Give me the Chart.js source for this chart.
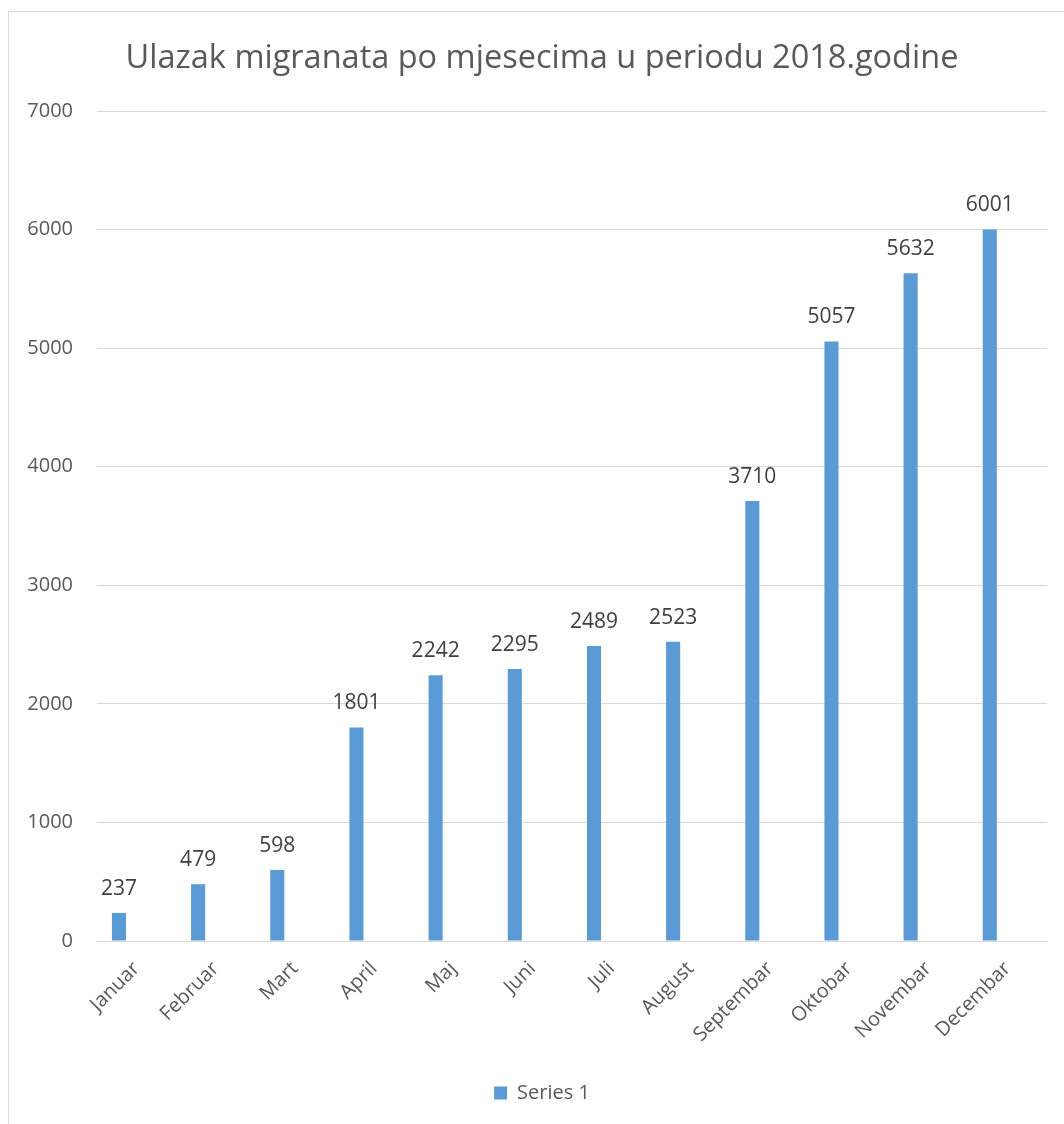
<!DOCTYPE html>
<html>
<head>
<meta charset="utf-8">
<script src="https://cdn.jsdelivr.net/npm/chart.js@4"></script>
<style>
  html, body { margin: 0; padding: 0; background: #fff; overflow: hidden; }
  #okvir { position: absolute; left: 8px; top: 11px; width: 1200px; height: 1200px; border: 1px solid #d9d9d9; }
  #wrap { position: absolute; left: 0; top: 0; width: 1064px; height: 1124px; }
</style>
</head>
<body>
<div id="okvir"></div>
<div id="wrap"><canvas id="grafik"></canvas></div>
<script>
// podaci
const mjeseci = ["Januar", "Februar", "Mart", "April", "Maj", "Juni", "Juli", "August", "Septembar", "Oktobar", "Novembar", "Decembar"];
const migranti = [237, 479, 598, 1801, 2242, 2295, 2489, 2523, 3710, 5057, 5632, 6001];
const prazno = [null, null, null, null, null, null, null, null, null, null, null, null];
const yTicks = [0, 1000, 2000, 3000, 4000, 5000, 6000, 7000];

const font = "'Open Sans', 'Liberation Sans', sans-serif";

// oznake iznad stubaca
const oznake = {
    id: "oznake",
    afterDatasetsDraw(chart) {
        const ctx = chart.ctx;
        const meta = chart.getDatasetMeta(0);
        ctx.save();
        ctx.font = "21px " + font;
        ctx.fillStyle = "#404040";
        ctx.textAlign = "center";
        ctx.textBaseline = "alphabetic";
        meta.data.forEach((bar, i) => {
            ctx.fillText(String(migranti[i]), bar.x, bar.y - 18);
        });
        ctx.restore();
    }
};

new Chart(document.getElementById("grafik"), {
    type: "bar",
    data: {
        labels: mjeseci,
        datasets: [{
            label: "Series 1",
            data: migranti,
            backgroundColor: "#5b9bd5",
            categoryPercentage: 0.89,
            barPercentage: 0.4
        }, {
            label: "",
            data: prazno,
            backgroundColor: "#ed7d31",
            categoryPercentage: 0.89,
            barPercentage: 0.4
        }]
    },
    options: {
        responsive: true,
        maintainAspectRatio: false,
        animation: false,
        layout: { padding: { left: 37, right: 17, top: 0, bottom: 11 } },
        plugins: {
            tooltip: { enabled: false },
            title: {
                display: true,
                text: "Ulazak migranata po mjesecima u periodu 2018.godine",
                color: "#595959",
                font: { family: font, size: 32.5, weight: "normal" },
                padding: { top: 39, bottom: 33 }
            },
            legend: {
                position: "bottom",
                labels: {
                    filter: (item) => item.datasetIndex === 0,
                    color: "#595959",
                    font: { family: font, size: 20 },
                    boxWidth: 13,
                    boxHeight: 13,
                    padding: 10
                }
            }
        },
        scales: {
            x: {
                grid: { display: false },
                border: { display: true, color: "#d9d9d9" },
                ticks: {
                    color: "#595959",
                    font: { family: font, size: 20 },
                    maxRotation: 45,
                    minRotation: 45,
                    padding: 8
                },
                afterFit: (scale) => { scale.height = 132; }
            },
            y: {
                min: 0,
                max: 7000,
                afterBuildTicks: (scale) => { scale.ticks = yTicks.map(v => ({ value: v })); },
                grid: { color: "#d9d9d9", drawTicks: false },
                border: { display: false },
                ticks: {
                    color: "#595959",
                    font: { family: font, size: 20 },
                    padding: 24,
                    callback: (v) => String(v)
                },
                afterFit: (scale) => {
                    scale.width = 60;
                    // natpisi izlaze lijevo od okvira ose, ne sijeci ih
                    scale._computeLabelArea = () => null;
                }
            }
        }
    },
    plugins: [oznake]
});
</script>
</body>
</html>
